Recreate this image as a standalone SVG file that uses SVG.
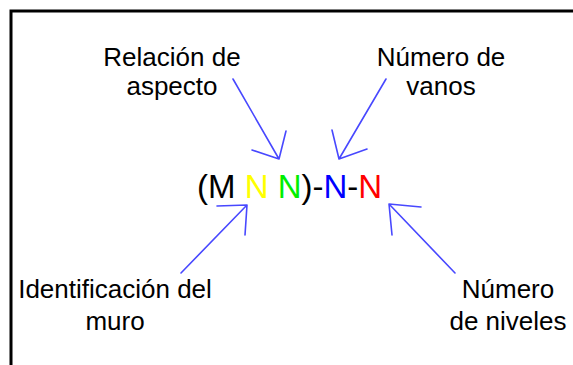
<svg xmlns="http://www.w3.org/2000/svg" width="573" height="365" viewBox="0 0 573 365">
<style>
.lbl{font-family:"Liberation Sans",Arial,sans-serif;font-size:26px;fill:#000;text-anchor:middle}
.code{font-family:"Liberation Sans",Arial,sans-serif;font-size:33px;fill:#000}
.arr{stroke:#4848ff;stroke-width:1.6;fill:none;stroke-linecap:round;stroke-linejoin:round}
</style>
<rect x="0" y="0" width="573" height="365" fill="#fff"/>
<path d="M11,367 V11 H575" fill="none" stroke="#000" stroke-width="3"/>
<g id="code">
<text class="code" x="197" y="198">(M <tspan fill="#ffff00">N</tspan> <tspan fill="#00ee00">N</tspan>)-<tspan fill="#0000ff">N</tspan>-<tspan fill="#ff0000">N</tspan></text>
</g>
<g id="relacion"><text class="lbl" x="172" y="66">Relación de</text><text class="lbl" x="172" y="95">aspecto</text></g>
<g id="vanos"><text class="lbl" x="441" y="66">Número de</text><text class="lbl" x="441" y="95">vanos</text></g>
<g id="identificacion"><text class="lbl" x="115" y="298">Identificación del</text><text class="lbl" x="115" y="330">muro</text></g>
<g id="niveles"><text class="lbl" x="508" y="298">Número</text><text class="lbl" x="508" y="330">de niveles</text></g>
<g id="connectors">
<path class="arr" d="M233,79 L279,159 M252,150 L279,159 L286,131"/>
<path class="arr" d="M386,79 L339,159 M332,130 L339,159 L367,149"/>
<path class="arr" d="M181,273 L247,205 M217,206 L247,205 L245,235"/>
<path class="arr" d="M455,273 L389,204 M421,207 L389,204 L392,235"/>
</g>
</svg>
